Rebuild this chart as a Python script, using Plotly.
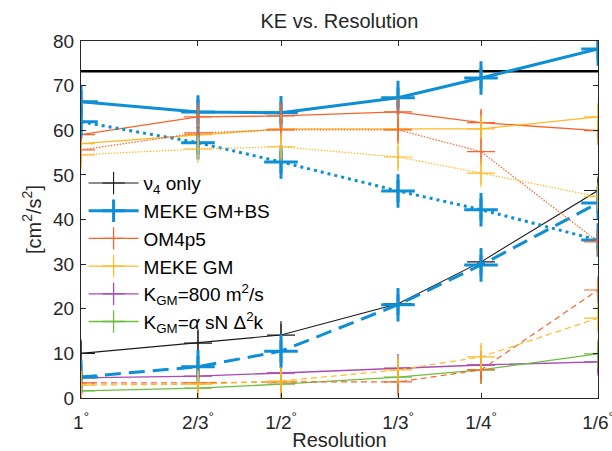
import math
import plotly.graph_objects as go

# ---------------- data ----------------
RES_LABELS = ["1", "2/3", "1/2", "1/3", "1/4", "1/6"]
RES_INV = [1, 1.5, 2, 3, 4, 6]          # 1 / resolution (degrees^-1)
Y_TICKS = [0, 10, 20, 30, 40, 50, 60, 70, 80]
REFERENCE_KE = 73.2

nu4_only = [10.0, 12.3, 14.1, 21.1, 30.5, 46.5]
nu4_only_err = [2.7, 2.8, 2.6, 2.3, 2.5, 2.5]

meke_gmbs_solid = [66.4, 64.1, 63.9, 67.3, 71.7, 78.2]
meke_gmbs_solid_err = [2.7, 2.8, 2.5, 2.3, 2.3, 2.3]
meke_gmbs_dotted = [61.9, 57.2, 52.9, 46.4, 42.2, 35.4]
meke_gmbs_dotted_err = [2.7, 2.5, 2.5, 2.5, 2.5, 2.3]
meke_gmbs_dashed = [4.7, 7.0, 10.5, 20.9, 29.8, 43.7]
meke_gmbs_dashed_err = [2.5, 2.5, 2.5, 2.3, 2.3, 2.3]

om4p5_solid = [59.0, 63.0, 63.2, 64.1, 61.7, 59.9]
om4p5_solid_err = [2.5, 2.5, 2.5, 2.7, 2.7, 1.5]
om4p5_dotted = [55.6, 59.4, 60.1, 60.1, 55.2, 35.0]
om4p5_dotted_err = [2.5, 2.5, 2.5, 2.5, 2.5, 2.3]
om4p5_dashed = [3.4, 3.4, 3.6, 3.6, 6.3, 24.2]
om4p5_dashed_err = [2.5, 2.5, 2.5, 2.5, 2.5, 2.5]

meke_gm_solid = [57.0, 59.0, 60.3, 60.3, 60.3, 63.0]
meke_gm_solid_err = [3.0, 3.0, 3.0, 2.5, 2.5, 2.7]
meke_gm_dotted = [54.5, 55.8, 56.3, 54.0, 50.4, 45.1]
meke_gm_dotted_err = [2.5, 2.5, 2.5, 2.5, 2.5, 2.5]
meke_gm_dashed = [2.9, 3.1, 3.8, 6.3, 9.2, 17.9]
meke_gm_dashed_err = [3.0, 3.0, 3.0, 2.7, 2.7, 2.7]

kgm800 = [4.5, 4.9, 5.6, 6.7, 7.4, 8.1]
kgm800_err = [2.5, 2.5, 2.5, 2.5, 2.5, 2.5]

kgm_alpha = [1.6, 2.2, 3.1, 4.7, 6.3, 9.9]
kgm_alpha_err = [2.5, 2.5, 2.5, 2.5, 2.5, 2.5]

# ---------------- style ----------------
BLACK = "#1a1a1a"
BLUE = "#0D8ED5"
ORANGE = "#F8642A"
YELLOW = "#FDB927"
PURPLE = "#A94AB5"
GREEN = "#6DBE3E"
TEXT = "#262626"
FONT = "Liberation Sans, Arial, Helvetica, sans-serif"

fig = go.Figure()


def add(y, err, color, width, dash, name=None, msize=20):
    fig.add_trace(go.Scatter(
        x=RES_INV, y=y, mode="lines+markers",
        name=name if name else "", showlegend=name is not None,
        line=dict(color=color, width=width, dash=dash),
        marker=dict(symbol="cross-thin", size=msize,
                    line=dict(color=color, width=width)),
        error_y=dict(type="data", array=err, visible=True, width=0,
                     color=color, thickness=width),
    ))


# reference horizontal line
fig.add_trace(go.Scatter(
    x=[RES_INV[0], RES_INV[-1]], y=[REFERENCE_KE, REFERENCE_KE],
    mode="lines", line=dict(color="black", width=2.5), showlegend=False))

add(nu4_only, nu4_only_err, BLACK, 1.1, "solid", "ν<sub>4</sub> only")
add(meke_gmbs_solid, meke_gmbs_solid_err, BLUE, 3, "solid", "MEKE GM+BS", 24)
add(om4p5_solid, om4p5_solid_err, ORANGE, 1.3, "solid", "OM4p5")
add(meke_gm_solid, meke_gm_solid_err, YELLOW, 1.3, "solid", "MEKE GM")
add(kgm800, kgm800_err, PURPLE, 1.3, "solid", "K<sub>GM</sub>=800 m<sup>2</sup>/s")
add(kgm_alpha, kgm_alpha_err, GREEN, 1.3, "solid",
    "K<sub>GM</sub>=<i>α</i> sN Δ<sup>2</sup>k")

add(meke_gmbs_dotted, meke_gmbs_dotted_err, BLUE, 3, "3px,4px", None, 24)
add(meke_gmbs_dashed, meke_gmbs_dashed_err, BLUE, 3, "16px,8px", None, 24)
add(om4p5_dotted, om4p5_dotted_err, ORANGE, 1.2, "1.5px,1.5px")
add(om4p5_dashed, om4p5_dashed_err, ORANGE, 1.2, "6px,4px")
add(meke_gm_dotted, meke_gm_dotted_err, YELLOW, 1.2, "1.5px,1.5px")
add(meke_gm_dashed, meke_gm_dashed_err, YELLOW, 1.2, "6px,4px")

axis_common = dict(
    showline=True, linecolor=TEXT, linewidth=1, mirror="ticks",
    ticks="inside", ticklen=5, tickcolor=TEXT, showgrid=False,
    zeroline=False, automargin=False, ticklabeloverflow="allow",
    tickfont=dict(family=FONT, size=19, color=TEXT),
)

x_lo = math.log10(RES_INV[0])
x_hi = math.log10(RES_INV[-1]) + 1e-6

fig.update_layout(
    width=612, height=451,
    margin=dict(l=81, r=14, t=41, b=53),
    paper_bgcolor="white", plot_bgcolor="white",
    font=dict(family=FONT, color=TEXT, size=19),
    title=dict(text="KE vs. Resolution", x=0.5546, xanchor="center",
               y=0.953, yanchor="middle",
               font=dict(family=FONT, size=20, color=TEXT)),
    xaxis=dict(type="log", range=[x_lo, x_hi], tickvals=RES_INV,
               ticktext=[f"{s}<sup>°</sup>" for s in RES_LABELS],
               ticklabelstandoff=7,
               title=dict(text="Resolution", standoff=0,
                          font=dict(family=FONT, size=20, color=TEXT)),
               **axis_common),
    yaxis=dict(range=[0, 80], tickvals=Y_TICKS,
               ticklabelstandoff=2,
               title=dict(text="[cm<sup>2</sup>/s<sup>2</sup>]", standoff=6,
                          font=dict(family=FONT, size=20, color=TEXT)),
               **axis_common),
    legend=dict(x=0.005, y=0.655, xanchor="left", yanchor="top",
                bgcolor="rgba(0,0,0,0)", borderwidth=0, itemwidth=50,
                font=dict(family=FONT, size=19, color="black"),
                tracegroupgap=0),
    showlegend=True,
)

fig.write_html("out.html")
